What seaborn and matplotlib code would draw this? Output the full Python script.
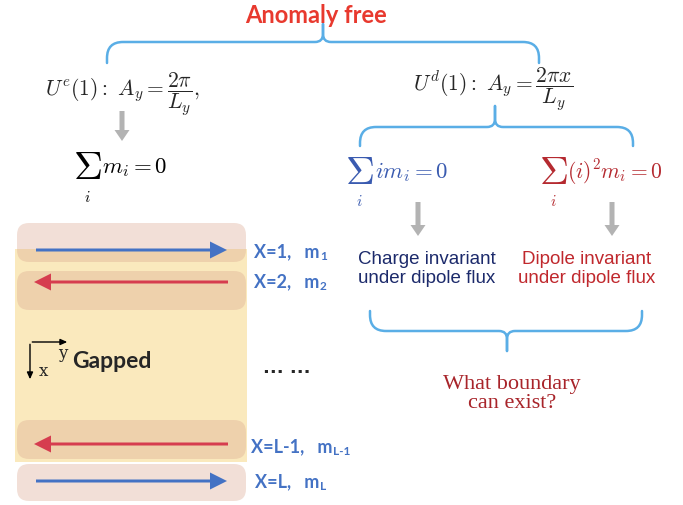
import matplotlib
matplotlib.use("Agg")
import matplotlib.pyplot as plt
import seaborn as sns
from matplotlib.patches import FancyBboxPatch, Rectangle, PathPatch
from matplotlib.path import Path
from matplotlib.transforms import Bbox

sns.set_style("white")
plt.rcParams["font.family"] = ["DejaVu Sans"]
plt.rcParams["mathtext.fontset"] = "cm"

# ---------------- content ----------------
title = "Anomaly free"
formula_e = r"$U^e(1):\ A_y = \dfrac{2\pi}{L_y},$"
formula_d = r"$U^d(1):\ A_y = \dfrac{2\pi x}{L_y}$"
sum_terms = [r"$m_i = 0$", r"$i m_i = 0$", r"$(i)^2 m_i = 0.$"]
outcomes = ["Charge invariant\nunder dipole flux", "Dipole invariant\nunder dipole flux"]
question = "What boundary\ncan exist?"
row_names = ["X=1,", "X=2,", "X=L-1,", "X=L,"]
row_subs = ["1", "2", "L-1", "L"]
row_dirs = [1, -1, -1, 1]
row_kinds = ["edge", "bulk", "bulk", "edge"]
bulk_label = "Gapped"

# ---------------- styles ----------------
C_TITLE = "#e8392e"
C_BRACE = "#5aaee6"
C_BLUE_MATH = "#3a5bb0"
C_RED_MATH = "#b52a30"
C_NAVY = "#1c2a6b"
C_RED_TXT = "#c0282d"
C_Q = "#a8242a"
C_ARROW_B = "#4472c4"
C_ARROW_R = "#d63d4f"
C_YELLOW = "#fae9bd"
C_PINK = "#daa68f"
C_GRAY = "#b3b3b3"

fig = plt.figure(figsize=(6.83, 5.06), dpi=100)
ax = fig.add_axes([0, 0, 1, 1])
ax.set_xlim(0, 683)
ax.set_ylim(506, 0)
ax.axis("off")
renderer = fig.canvas.get_renderer()


def brace(x0, x1, xt, y_end, y_mid, y_tip, r=16, rt=8):
    s = 1 if y_end > y_mid else -1
    for xe in (x0, x1):
        d = 1 if xt > xe else -1
        verts = [(xe, y_end), (xe, y_mid + s * r), (xe, y_mid), (xe + d * r, y_mid),
                 (xt - d * rt, y_mid), (xt, y_mid), (xt, y_mid - s * rt), (xt, y_tip)]
        codes = [Path.MOVETO, Path.LINETO, Path.CURVE3, Path.CURVE3,
                 Path.LINETO, Path.CURVE3, Path.CURVE3, Path.LINETO]
        ax.add_patch(PathPatch(Path(verts, codes), fill=False, ec=C_BRACE, lw=1.8,
                               capstyle="round", joinstyle="round"))


def gray_arrow(x, y0, y1):
    ax.arrow(x, y0, 0, y1 - y0, width=5, head_width=15, head_length=11,
             length_includes_head=True, color=C_GRAY, lw=0)


def big_sum(x, y, color, term, tx, fs=16.5):
    ax.text(x, y, r"$\Sigma$", fontsize=29, ha="center", va="center", color=color)
    ax.text(x, y + 29, r"$i$", fontsize=11, ha="center", va="center", color=color)
    return ax.text(tx, y - 1, term, fontsize=fs, ha="left", va="center", color=color)


# title and braces
ax.text(316, 15, title, color=C_TITLE, fontsize=17, fontweight="bold",
        family="Lato", ha="center", va="center")
brace(107, 539, 323, 64, 43, 25)
ax.text(45, 94, formula_e, fontsize=15.5, ha="left", va="center")
ax.text(413, 89, formula_d, fontsize=15.5, ha="left", va="center")
gray_arrow(122, 112, 142)

# sums
big_sum(87, 168, "black", sum_terms[0], 102)
brace(360, 633, 495, 147, 128, 107)
big_sum(359, 173, C_BLUE_MATH, sum_terms[1], 375)
t = big_sum(553, 173, C_RED_MATH, sum_terms[2], 567, fs=15.5)
t.set_clip_on(True)
t.set_clip_box(Bbox.from_extents(0, 0, 661, 506))
gray_arrow(418, 203, 237)
gray_arrow(612, 203, 237)

ax.text(427, 269, outcomes[0], color=C_NAVY, fontsize=13.5, family="Liberation Sans",
        ha="center", va="center", linespacing=1.15)
ax.text(587, 269, outcomes[1], color=C_RED_TXT, fontsize=13.5, family="Liberation Sans",
        ha="center", va="center", linespacing=1.15)

brace(370, 642, 507, 312, 332, 352)
ax.text(512, 394, question, color=C_Q, fontsize=16, family="Liberation Serif",
        ha="center", va="center", linespacing=0.95)

# left panel: bands
band_y = [(224, 263), (272, 311), (421, 460), (465, 502)]
arrow_y = [251, 283, 445, 482]
label_y = [252, 282, 447, 482]
label_x = [254, 254, 251, 255]

ax.add_patch(Rectangle((15, 250), 232, 213, color=C_YELLOW, lw=0, zorder=1))
for (ya, yb), kind in zip(band_y, row_kinds):
    ax.add_patch(FancyBboxPatch((17, ya), 229, yb - ya,
                                boxstyle="round,pad=0,rounding_size=12",
                                fc=C_PINK, alpha=0.35, lw=0, zorder=2))

inv = ax.transData.inverted()
for name, sub, d, ya, ly, lx in zip(row_names, row_subs, row_dirs, arrow_y, label_y, label_x):
    x_start, x_end = (36, 227) if d > 0 else (228, 34)
    col = C_ARROW_B if d > 0 else C_ARROW_R
    ax.arrow(x_start, ya, x_end - x_start, 0, width=3, head_width=17, head_length=17,
             length_includes_head=True, color=col, lw=0, zorder=3)
    main = ax.text(lx, ly, name + "   m", color=C_ARROW_B, fontsize=13,
                   fontweight="bold", family="Lato", ha="left", va="center")
    ext = main.get_window_extent(renderer)
    x_sub = inv.transform((ext.x1, ext.y0))[0]
    ax.text(x_sub + 0.5, ly + 5, sub, color=C_ARROW_B, fontsize=8.5,
            fontweight="bold", family="Lato", ha="left", va="center")

# coordinates + gapped
ax.annotate("", xy=(70, 343), xytext=(29.5, 343),
            arrowprops=dict(arrowstyle="-|>,head_length=0.4,head_width=0.18", lw=1, color="black"), zorder=4)
ax.annotate("", xy=(30, 383), xytext=(30, 342.5),
            arrowprops=dict(arrowstyle="-|>,head_length=0.4,head_width=0.18", lw=1, color="black"), zorder=4)
ax.text(63, 354, "y", fontsize=12, family="DejaVu Serif", ha="center", va="center", zorder=4)
ax.text(43, 372, "x", fontsize=12, family="DejaVu Serif", ha="center", va="center", zorder=4)
ax.text(72, 361, bulk_label, fontsize=16.5, fontweight="bold", family="Lato",
        ha="left", va="center", zorder=4)
ax.text(287, 368, "... ...", fontsize=13, fontweight="bold", ha="center", va="center")

fig.savefig("out.png", dpi=100)
